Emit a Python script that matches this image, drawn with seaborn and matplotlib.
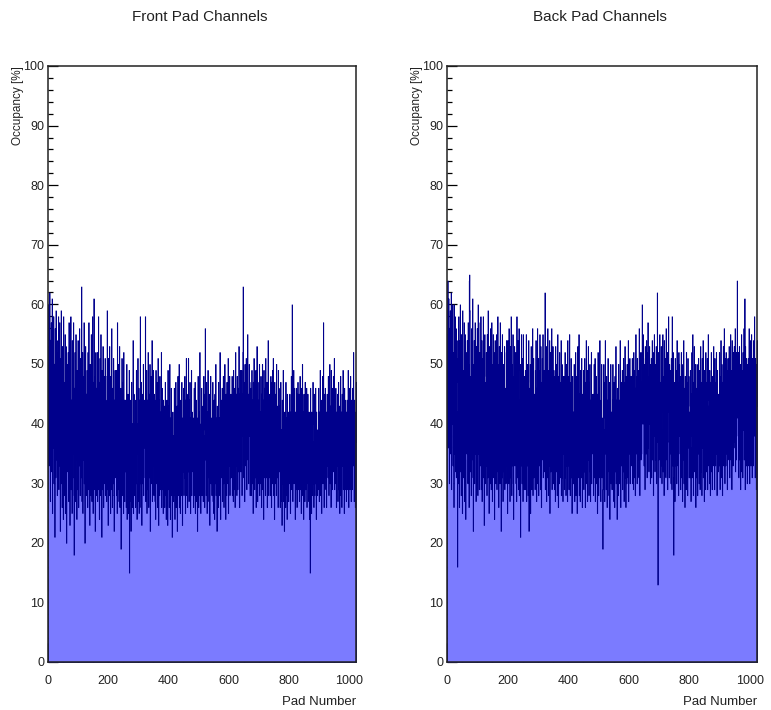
import numpy as np
import pandas as pd
import matplotlib
matplotlib.use("Agg")
import matplotlib.pyplot as plt
from matplotlib.ticker import MultipleLocator, FixedLocator
import seaborn as sns

# ---------------- data ----------------
panel_titles = ["Front Pad Channels", "Back Pad Channels"]
x_label = "Pad Number"
y_label = "Occupancy [%]"
x_ticks = [0, 200, 400, 600, 800, 1000]
y_ticks = [0, 10, 20, 30, 40, 50, 60, 70, 80, 90, 100]

front_occupancy = [
    53,60,33,45,62,38,27,54,41,57,32,48,61,25,43,55,36,58,30,50,44,21,56,39,31,59,47,34,54,28,42,52,
    37,58,29,48,33,57,42,22,51,35,59,30,46,26,53,39,49,24,58,36,28,47,41,55,25,44,53,33,20,50,38,45,
    32,52,43,27,57,37,47,23,50,33,58,29,44,38,25,54,28,48,35,57,31,18,46,40,52,27,39,55,34,45,24,49,
    43,29,54,37,26,48,33,56,44,28,51,39,31,47,63,27,42,52,25,36,48,34,57,30,40,20,46,53,35,28,45,32,
    49,33,26,52,39,29,57,44,32,23,50,37,47,28,55,42,27,37,58,34,25,47,39,61,29,48,43,22,32,52,38,28,
    46,31,52,27,43,37,58,29,47,24,35,51,41,28,55,32,45,21,49,37,29,53,43,26,35,48,40,30,51,28,44,33,
    41,27,48,59,29,43,23,51,35,46,28,53,32,41,25,48,37,29,56,34,26,46,40,30,51,28,22,44,35,49,31,42,
    34,49,28,42,25,57,38,29,50,35,27,45,53,26,40,32,46,19,42,31,51,36,28,47,40,25,52,32,44,27,36,44,
    32,44,26,37,50,24,36,30,45,34,25,40,49,15,33,39,27,44,22,35,47,33,26,40,30,54,25,35,45,28,34,39,
    40,26,44,34,49,30,24,40,35,51,27,37,46,25,34,44,30,58,37,26,47,35,23,41,30,45,33,50,28,38,36,44,
    41,31,58,27,45,34,49,25,38,44,29,52,35,26,45,40,31,50,22,38,48,30,44,35,54,27,41,33,49,37,28,45,
    33,44,27,40,24,49,35,30,47,37,26,42,51,31,23,44,35,28,48,39,29,42,33,52,26,37,46,29,39,25,44,33,
    32,43,26,37,47,28,39,24,35,44,29,37,23,49,29,36,43,26,38,50,32,24,41,34,46,28,37,21,33,42,35,27,
    38,28,46,33,24,41,34,47,26,38,30,43,22,36,48,28,39,32,50,26,41,34,25,44,32,38,28,47,35,23,41,32,
    34,46,28,41,31,48,36,25,44,34,51,28,41,36,26,45,32,51,38,27,44,34,47,30,25,41,37,49,28,42,34,40,
    32,41,26,37,46,28,36,47,25,38,31,44,27,36,41,22,38,48,30,26,42,34,28,52,37,32,25,40,34,46,28,37,
    34,43,27,39,48,29,38,26,45,56,34,41,28,47,37,25,42,31,49,34,41,27,45,36,23,43,34,48,30,41,38,28,
    31,41,47,27,38,25,44,34,24,45,30,38,50,28,36,41,22,43,32,38,26,47,35,28,41,30,52,37,24,34,44,31,
    33,46,27,41,30,48,37,26,44,34,50,30,41,24,45,37,28,47,33,41,30,51,25,38,44,33,48,28,41,31,45,37,
    42,31,48,28,41,45,27,49,37,46,29,44,26,39,52,33,45,37,28,48,39,29,46,42,32,53,37,26,45,39,49,32,
    44,33,49,28,45,38,52,63,42,31,47,43,27,50,38,46,33,51,42,29,49,43,55,34,45,30,41,50,38,47,28,43,
    33,46,28,42,49,30,44,38,25,47,34,51,40,29,46,38,31,49,26,43,33,53,41,27,47,36,30,44,34,50,28,42,
    42,30,48,35,26,45,38,50,29,44,34,24,49,40,31,46,36,28,51,34,43,31,47,26,41,38,54,33,28,45,40,31,
    34,45,28,48,38,26,47,41,30,49,36,51,28,44,38,24,47,40,30,45,35,28,50,38,43,31,41,26,49,35,46,38,
    32,43,26,37,47,27,39,34,23,44,30,37,49,27,40,34,22,42,30,37,26,47,34,28,41,24,45,32,37,42,27,34,
    39,30,45,34,25,42,37,48,29,41,60,34,27,44,37,49,30,39,46,34,24,42,37,29,46,39,26,45,33,47,37,29,
    33,45,27,41,48,29,37,43,25,46,33,39,50,28,42,37,24,45,33,39,27,47,37,29,42,33,46,26,40,37,45,30,
    37,27,42,31,24,40,15,46,29,37,25,42,33,28,40,47,30,37,26,45,33,28,40,30,46,37,24,42,33,39,28,37,
    39,29,46,37,27,42,33,49,28,40,44,33,25,42,37,48,30,39,57,33,26,45,37,29,46,39,31,42,26,37,45,33,
    42,31,48,39,28,46,35,50,30,43,39,26,49,37,42,29,46,39,32,48,42,34,51,29,44,39,30,46,37,26,42,39,
    33,45,27,39,47,29,37,43,25,41,33,48,28,42,37,26,45,33,39,49,29,37,43,25,46,33,41,29,44,37,27,42,
    39,29,44,33,49,37,26,42,33,46,29,39,48,35,27,44,33,42,29,46,39,33,52,37,27,44,33,41,26,42,37,47,
]

back_occupancy = [
    55,64,36,48,61,42,30,56,45,59,35,50,62,29,46,57,40,60,33,52,47,26,60,43,35,58,50,32,56,31,47,54,
    42,16,35,51,30,58,44,26,54,37,60,32,48,28,55,42,52,25,59,40,31,49,44,57,27,47,55,34,24,52,40,47,
    35,54,47,30,57,41,50,26,64,65,59,32,48,39,28,56,31,51,37,61,34,22,50,42,54,30,41,57,35,48,27,53,
    47,30,56,39,28,60,35,57,47,29,52,41,33,50,58,29,44,54,27,39,51,34,58,31,44,23,48,55,37,30,47,33,
    52,36,28,55,42,31,59,47,34,25,53,40,50,30,56,45,29,40,57,36,27,50,43,55,31,52,46,24,34,54,41,30,
    49,34,55,29,46,38,58,32,50,26,37,53,43,30,57,34,48,22,52,39,31,55,45,27,37,50,42,32,53,29,46,35,
    46,30,52,54,33,47,25,54,38,50,30,56,35,46,27,53,41,31,58,37,28,50,43,33,55,30,24,48,38,53,33,46,
    37,52,30,46,27,58,40,31,54,38,29,49,56,28,44,34,50,21,46,33,55,39,30,51,42,27,55,34,48,29,38,48,
    36,49,29,44,55,27,41,33,50,38,28,47,54,22,37,46,31,50,25,42,53,37,29,48,34,56,28,40,51,31,38,45,
    45,29,49,37,54,33,27,46,39,56,30,42,51,28,38,49,33,55,42,29,53,40,26,47,34,51,38,55,31,44,40,49,
    44,32,62,29,49,37,53,27,42,48,31,56,38,28,49,44,33,54,25,42,52,32,48,38,56,29,45,35,53,41,30,49,
    35,48,29,44,27,53,38,32,50,40,28,46,55,33,26,48,38,30,52,42,31,47,36,54,28,40,50,31,43,27,48,35,
    36,48,29,43,52,31,44,28,40,50,33,42,27,54,33,41,48,29,43,55,36,28,47,38,51,31,43,25,37,48,39,30,
    42,30,50,35,27,45,37,52,28,42,33,48,25,39,53,31,44,35,55,28,45,37,27,49,35,41,31,51,38,26,45,35,
    35,49,29,44,32,51,38,26,47,35,54,30,44,38,27,49,34,53,40,28,47,36,50,32,27,44,39,52,30,45,36,42,
    35,45,28,41,50,31,39,51,27,41,34,48,30,39,45,25,41,52,33,28,46,37,31,54,40,35,27,44,37,50,31,41,
    34,19,29,41,50,31,39,27,47,54,35,42,29,48,38,26,44,32,51,35,42,28,47,37,24,45,35,50,30,42,39,29,
    33,44,50,29,40,27,47,36,26,48,32,40,53,30,38,44,24,46,34,40,28,50,37,30,44,32,54,40,26,35,47,33,
    35,49,29,43,32,51,39,27,47,35,53,31,43,26,48,39,30,50,35,43,31,54,27,40,47,35,51,30,43,33,48,39,
    45,33,51,30,43,48,29,52,39,49,31,46,28,41,55,35,48,39,30,51,41,31,49,45,34,56,39,28,48,41,52,34,
    47,35,52,60,48,40,55,51,44,33,50,46,29,53,40,49,35,54,45,31,52,46,57,36,48,32,43,53,40,50,30,46,
    37,51,31,47,54,34,49,43,28,52,38,55,45,32,50,42,34,53,30,48,37,62,45,13,52,40,34,49,38,55,31,46,
    47,33,53,39,30,50,42,55,32,48,38,28,54,44,34,51,40,31,56,38,48,34,52,29,46,42,58,37,31,50,44,35,
    36,49,30,51,41,29,58,44,33,52,38,18,31,47,41,27,51,43,33,49,37,30,54,41,47,33,45,28,52,38,50,41,
    35,48,29,43,52,31,45,38,27,50,34,43,54,30,46,38,26,48,34,43,29,52,38,32,47,28,51,36,43,48,31,38,
    42,31,49,36,27,45,38,52,31,44,55,35,28,47,38,53,32,42,50,35,26,46,39,31,50,41,28,48,35,51,38,30,
    36,49,29,44,53,32,41,47,28,51,36,43,54,31,46,40,27,49,36,43,29,52,40,32,47,36,51,29,44,55,49,33,
    43,30,49,37,28,47,35,52,32,44,29,48,39,33,47,53,34,43,29,51,39,33,47,35,52,43,28,49,38,45,32,43,
    45,33,52,42,29,48,37,54,31,46,50,38,28,47,42,53,33,45,56,38,30,51,42,33,52,45,35,49,29,43,51,37,
    48,34,53,44,31,52,39,55,34,49,44,29,54,41,48,33,52,44,36,53,48,37,56,32,50,44,34,52,41,64,48,43,
    38,52,31,46,53,34,44,50,29,48,39,55,32,49,44,31,52,39,47,56,34,44,61,29,53,39,48,33,51,44,30,50,
    46,33,51,39,56,44,30,49,39,54,33,46,55,41,31,51,37,49,33,54,45,38,58,44,31,51,39,48,29,50,43,54,
]

# ---------------- styling ----------------
sns.set_style("ticks")
plt.rcParams["font.family"] = ["Liberation Sans", "DejaVu Sans"]

FILL = "#7b7bff"
EDGE = "#00008c"
TEXT = "#222222"

W, H = 771, 710
fig = plt.figure(figsize=(W / 100, H / 100), dpi=100)

panels = [
    (front_occupancy, panel_titles[0], 48, 356, 200),
    (back_occupancy, panel_titles[1], 447, 757, 600),
]
top_px, bot_px = 66, 662

for values, title, x0, x1, xc in panels:
    ax = fig.add_axes([x0 / W, 1 - bot_px / H, (x1 - x0) / W, (bot_px - top_px) / H])
    n = len(values)
    df = pd.DataFrame({"pad": np.arange(n) + 0.5, "occ": values})
    sns.histplot(
        data=df, x="pad", weights="occ", bins=n, binrange=(0, n),
        element="step", fill=True, ax=ax,
        facecolor=FILL, edgecolor=EDGE, linewidth=0.6, alpha=1.0,
    )
    ax.set_xlim(0, n)
    ax.set_ylim(0, 100)

    ax.xaxis.set_major_locator(FixedLocator(x_ticks))
    ax.xaxis.set_minor_locator(MultipleLocator(50))
    ax.yaxis.set_major_locator(FixedLocator(y_ticks))
    ax.yaxis.set_minor_locator(MultipleLocator(2))
    ax.tick_params(axis="both", which="both", direction="in", colors="black",
                   labelcolor=TEXT, labelsize=9, width=0.9, top=False, right=False)
    ax.tick_params(axis="x", which="major", length=14, pad=9)
    ax.tick_params(axis="x", which="minor", length=7)
    ax.tick_params(axis="y", which="major", length=7, pad=2.5)
    ax.tick_params(axis="y", which="minor", length=3.5)

    for s in ax.spines.values():
        s.set_visible(True)
        s.set_linewidth(1.1)
        s.set_color("#222222")

    ax.set_xlabel(x_label, fontsize=9.5, color=TEXT, loc="right")
    ax.xaxis.set_label_coords(1.0, -0.057)
    ax.xaxis.label.set_va("top")
    ax.set_ylabel(y_label, fontsize=8.5, color=TEXT, loc="top")
    ax.yaxis.set_label_coords(-(x0 - (x0 - 24)) / (x1 - x0), 1.0)

    fig.text(xc / W, 1 - 17 / H, title, ha="center", va="center", fontsize=11, color=TEXT)

fig.savefig("out.png", dpi=100)
